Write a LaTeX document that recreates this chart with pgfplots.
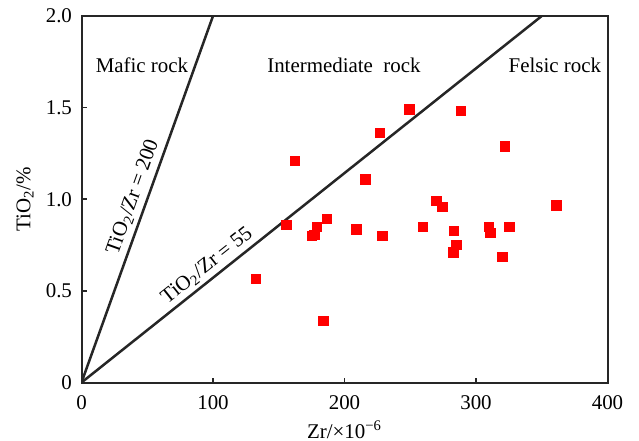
\documentclass[border=0pt]{standalone}
\usepackage{fontspec}
\setmainfont{Liberation Serif}
\usepackage{pgfplots}
\pgfplotsset{compat=1.18}
\begin{document}
\begin{tikzpicture}[font=\fontsize{10.5}{12}\selectfont]
\path[use as bounding box] (-40.75bp,-29.25bp) rectangle (278.75bp,191.25bp);
\begin{axis}[
  at={(0,0)}, anchor=south west,
  scale only axis, width=263bp, height=183.25bp,
  xmin=0, xmax=400, ymin=0, ymax=2,
  axis line style={line width=1bp, black!85},
  xtick={0,100,200,300,400},
  ytick={0,0.5,1,1.5,2},
  yticklabels={0,0.5,1.0,1.5,2.0},
  xticklabels={0,100,200,300,400},
  tick pos=left, tick align=inside,
  major tick length=2.5bp,
  tick style={line width=0.8bp, black!85},
  /pgf/number format/assume math mode=true,
  ticklabel style={font=\fontsize{10.5}{12}\selectfont},
  xticklabel style={yshift=-3bp},
  yticklabel style={xshift=-1.25bp},
  xlabel={Zr/×10\textsuperscript{−6}},
  ylabel={TiO\textsubscript{2}/\%},
  xlabel style={at={(axis description cs:0.5,-0.1296)}, anchor=center},
  ylabel style={at={(axis description cs:-0.1074,0.5)}, anchor=center},
  clip=true,
]
\addplot[line width=1.25bp, black!85, no marks] coordinates {(0,0) (100,2)};
\addplot[line width=1.25bp, black!85, no marks] coordinates {(0,0) (350,2)};
\addplot[only marks, mark=square*, mark size=2.4bp, mark options={fill=red, draw=red}] coordinates {
(249.3,1.491) (288.4,1.483) (226.8,1.362) (322.1,1.290) (162.4,1.210)
(216.1,1.109) (270.1,0.992) (274.4,0.959) (186.5,0.892) (156.0,0.859)
(178.9,0.849) (209.0,0.836) (259.5,0.849) (283.3,0.828) (309.9,0.850)
(310.9,0.817) (325.3,0.849) (175.1,0.801) (177.3,0.805) (229.0,0.799)
(285.3,0.750) (282.7,0.711) (320.3,0.686) (132.7,0.566) (183.9,0.336)
(361.1,0.965)
};
\node at (axis cs:46,1.733) {Mafic rock};
\node at (axis cs:199.6,1.733) {Intermediate\ \ rock};
\node at (axis cs:360,1.733) {Felsic rock};
\node[rotate=70.3, anchor=south, inner sep=2.5bp] at (axis cs:49.3,0.986) {TiO\textsubscript{2}/Zr = 200};
\node[rotate=38.5, anchor=south, inner sep=2bp] at (axis cs:101.7,0.581) {TiO\textsubscript{2}/Zr = 55};
\end{axis}
\end{tikzpicture}
\end{document}
